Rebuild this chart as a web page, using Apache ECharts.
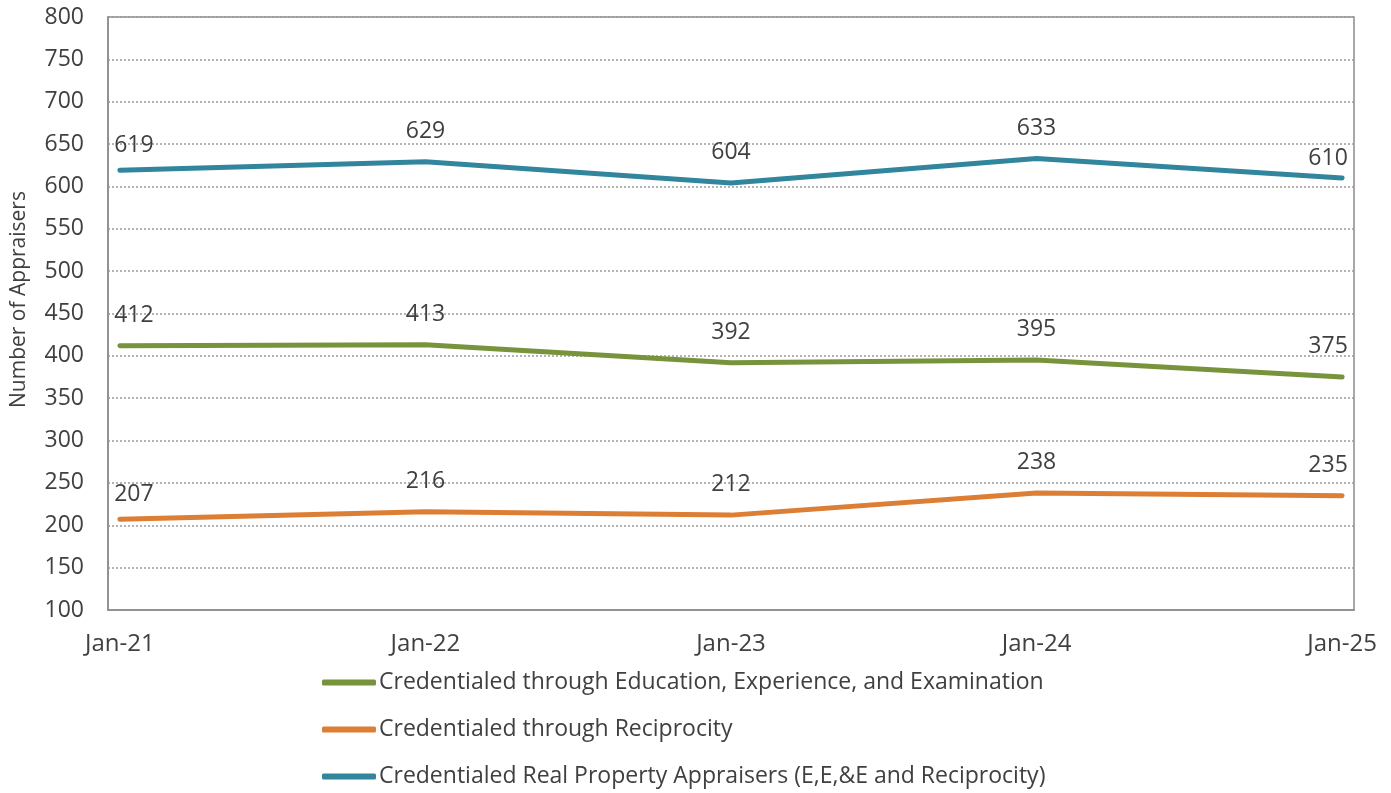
<!DOCTYPE html>
<html>
<head>
<meta charset="utf-8">
<script src="https://cdn.jsdelivr.net/npm/echarts@6/dist/echarts.min.js"></script>
<style>
  html, body { margin: 0; padding: 0; background: #ffffff; }
  #chart { width: 1391px; height: 793px; }
</style>
</head>
<body>
<div id="chart"></div>
<script>
// Appraiser counts by year
const categories = ['Jan-21', 'Jan-22', 'Jan-23', 'Jan-24', 'Jan-25'];
const seriesNames = [
  'Credentialed through Education, Experience, and Examination',
  'Credentialed through Reciprocity',
  'Credentialed Real Property Appraisers (E,E,&E and Reciprocity)'
];
const eeeValues = [412, 413, 392, 395, 375];
const reciprocityValues = [207, 216, 212, 238, 235];
const totalValues = [619, 629, 604, 633, 610];
const yTicks = { min: 100, max: 800, step: 50 };

const FONT = '"Open Sans", "Noto Sans", sans-serif';
const TEXT = '#404040';
const AXIS = '#8c8c8c';
const colors = ['#77933C', '#DD7E35', '#31859C'];

// per-point label nudges: first and last labels pulled inward
function labelNudge(i, n, firstDy, lastDy) {
  if (i === 0) return [14, firstDy];
  if (i === n - 1) return [-14, lastDy];
  return [0, 0];
}

function buildSeries(name, values, color, firstDy, lastDy) {
  return {
    name: name,
    type: 'line',
    data: values.map((v, i) => ({
      value: [i, v],
      label: { offset: labelNudge(i, values.length, firstDy, lastDy) }
    })),
    showSymbol: true,
    symbol: 'circle',
    symbolSize: 2,
    lineStyle: { color: color, width: 5, cap: 'round', join: 'round' },
    itemStyle: { color: 'rgba(0,0,0,0)', borderWidth: 0 },
    label: {
      show: true,
      position: 'top',
      distance: 18,
      color: TEXT,
      fontFamily: FONT,
      fontSize: 23,
      formatter: p => p.value[1]
    },
    emphasis: { disabled: true },
    animation: false
  };
}

const chart = echarts.init(document.getElementById('chart'), null, { renderer: 'canvas' });
chart.setOption({
  backgroundColor: '#ffffff',
  animation: false,
  grid: {
    left: 108, right: 37, top: 17, bottom: 183,
    outerBoundsMode: 'none',
    containLabel: false,
    show: true, borderColor: AXIS, borderWidth: 1.5, backgroundColor: 'transparent'
  },
  xAxis: {
    type: 'value',
    min: -0.039,
    max: 4.039,
    axisLine: { show: true, onZero: false, lineStyle: { color: AXIS, width: 1.5 } },
    axisTick: { show: false },
    splitLine: { show: false },
    axisLabel: {
      customValues: categories.map((c, i) => i),
      formatter: v => categories[Math.round(v)],
      color: TEXT,
      fontFamily: FONT,
      fontSize: 24,
      margin: 22
    }
  },
  yAxis: {
    type: 'value',
    min: yTicks.min,
    max: yTicks.max,
    interval: yTicks.step,
    name: 'Number of Appraisers',
    nameLocation: 'middle',
    nameGap: 78,
    nameTextStyle: { color: TEXT, fontFamily: FONT, fontSize: 21, padding: [0, 0, 0, 28] },
    axisLine: { show: true, onZero: false, lineStyle: { color: AXIS, width: 1.5 } },
    axisTick: { show: false },
    axisLabel: { color: TEXT, fontFamily: FONT, fontSize: 23, margin: 24 },
    splitLine: { show: true, lineStyle: { color: '#9a9a9a', width: 1.5, type: [2, 2] } }
  },
  legend: {
    orient: 'vertical',
    left: 317,
    top: 666,
    itemGap: 24,
    itemWidth: 54,
    itemHeight: 6,
    icon: 'roundRect',
    textStyle: { color: TEXT, fontFamily: FONT, fontSize: 23, padding: [0, 0, 0, -2] },
    data: seriesNames.map((n, i) => ({ name: n, itemStyle: { color: colors[i] } }))
  },
  series: [
    buildSeries(seriesNames[0], eeeValues, colors[0], 0, 0),
    buildSeries(seriesNames[1], reciprocityValues, colors[1], 6, 0),
    buildSeries(seriesNames[2], totalValues, colors[2], 6, 11)
  ]
});
</script>
</body>
</html>
